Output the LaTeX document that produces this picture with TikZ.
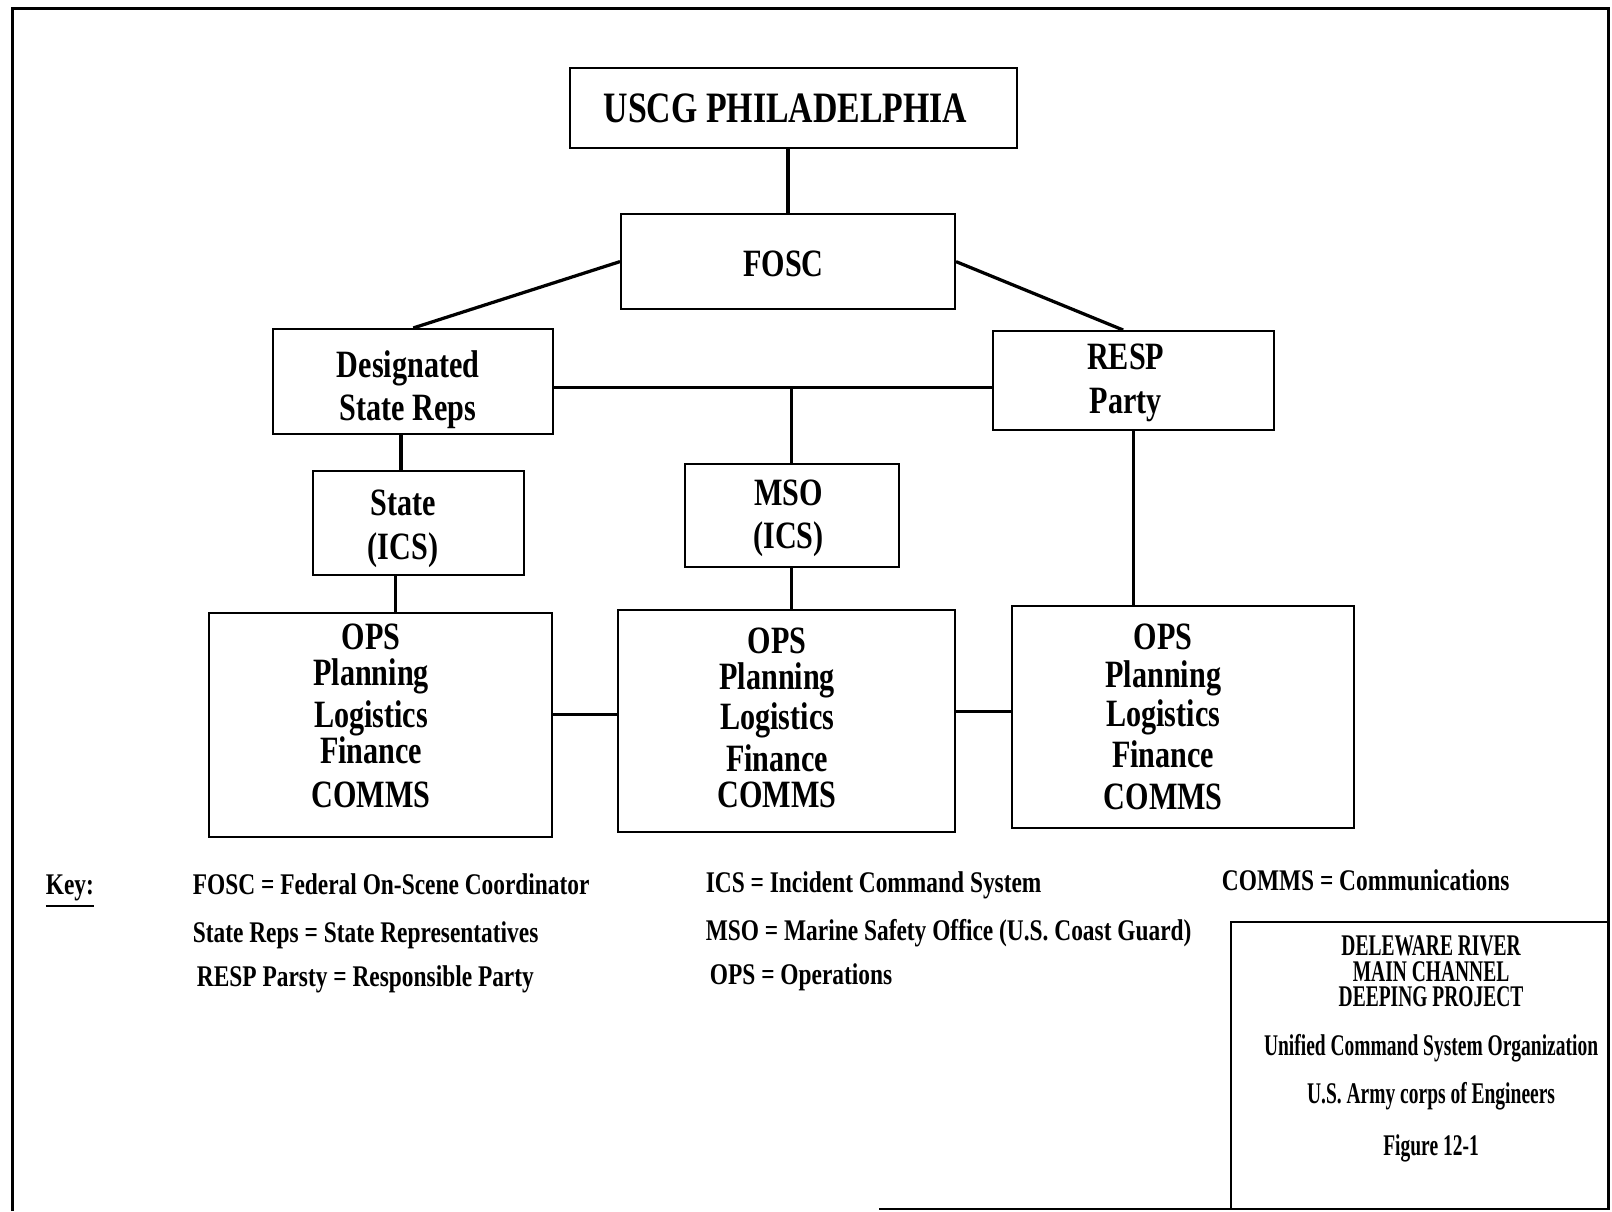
\documentclass[tikz,border=0pt]{standalone}
\usepackage{fontspec}
\setmainfont{Liberation Serif}[FakeStretch=0.78]
\newfontfamily\narrowfont{Liberation Serif}[FakeStretch=0.65]

\begin{document}
\begin{tikzpicture}[
                x=0.1mm,y=-0.1mm,
                line width=0.9pt,
                unit/.style={draw,line width=0.55pt,inner sep=0pt},
                inside/.style={align=center,inner sep=0pt,font=\fontsize{10.7}{12}\selectfont\bfseries},
                keytext/.style={anchor=mid west,inner sep=0pt,font=\fontsize{8.3}{10}\selectfont\bfseries}] %

\useasboundingbox (0,0) rectangle (1568,1178);

% frame
\draw[line width=0.8pt] (12,1178) -- (12,8) -- (1565,8) -- (1565,1176) -- (855,1176);


                    % 1
                    \node[unit,minimum width=43.5mm,minimum height=7.8mm,label={[inside,font=\fontsize{12}{14}\selectfont\bfseries,xshift=-0.75mm]center:{USCG PHILADELPHIA}}] (USCG) at (771.5,105) {};
                    \node[unit,minimum width=32.5mm,minimum height=9.3mm,label={[inside,xshift=-0.45mm,yshift=-0.25mm]center:{FOSC}}] (FOSC) at (766.5,254.5) {};
                    \path (FOSC.north) edge (FOSC.north |- USCG.south);


                    % 2
                    \node[unit,minimum width=27.2mm,minimum height=10.2mm,label={[inside,xshift=-0.5mm,yshift=-0.8mm]center:{Designated\\State Reps}}] (DSR) at (402,371) {};
                    \node[unit,minimum width=27.3mm,minimum height=9.6mm,label={[inside,xshift=-0.75mm,yshift=-0.25mm]center:{RESP\\Party}}] (RESP) at (1102.5,370) {};
                    \path (FOSC.west) edge (DSR.north);
                    \path (FOSC.east) edge ([xshift=-1mm]RESP.north);
                    \path ([yshift=-0.6mm]DSR.east) edge ([yshift=-0.6mm]DSR.east -| RESP.west);


                    % 3
                    \node[unit,minimum width=20.6mm,minimum height=10.1mm,label={[inside,xshift=-1.5mm,yshift=-0.6mm]center:{State\\(ICS)}}] (SICS) at (407,508.5) {};
                    \node[unit,minimum width=20.8mm,minimum height=10.1mm,label={[inside,xshift=-0.3mm,yshift=-0.25mm]center:{MSO\\(ICS)}}] (MSO) at (770,501.5) {};
                    \path ([xshift=-1.7mm]SICS.north) edge ([xshift=-1.7mm]SICS.north |- DSR.south);
                    \path (MSO.north) edge ([yshift=-0.6mm]MSO.north |- DSR.east);


                    % 4
                    \node[unit,minimum width=33.4mm,minimum height=21.8mm,label={[inside,xshift=-0.9mm,yshift=0.85mm]center:{OPS\\[-0.7mm]Planning\\[-0.2mm]Logistics\\[-0.7mm]Finance\\[0.1mm]COMMS}}] (OPSS) at (370,705) {};
                    \node[unit,minimum width=32.8mm,minimum height=21.6mm,label={[inside,xshift=-0.9mm,yshift=0.25mm]center:{OPS\\[-0.7mm]Planning\\[-0.4mm]Logistics\\[-0.1mm]Finance\\[-0.7mm]COMMS}}] (OPSM) at (765,701) {};
                    \node[unit,minimum width=33.3mm,minimum height=21.6mm,label={[inside,xshift=-1.9mm]center:{OPS\\[-0.5mm]Planning\\[-0.4mm]Logistics\\[-0.2mm]Finance\\[-0.2mm]COMMS}}] (OPSR) at (1150.5,697) {};
                    \path ([xshift=-2.2mm]SICS.south) edge ([xshift=-2.2mm]SICS.south |- OPSS.north);
                    \path (MSO.south) edge (MSO.south |- OPSM.north);
                    \path (RESP.south) edge (RESP.south |- OPSR.north);
                    \path ([yshift=0.6mm]OPSM.west) edge ([yshift=0.6mm]OPSM.west -| OPSS.east);
                    \path ([yshift=0.5mm]OPSR.west) edge ([yshift=0.5mm]OPSR.west -| OPSM.east);


%%%%%%%%%%%%%%%%%%%%%%%%%%%%%%%%%%%%%%%%%%%%%%%%%%%%%%%%%%%%%%%%%%%%%%%%%%%%%%%%%%%%

                    % key
                    \node[keytext] (KEY) at (43,862) {\underline{Key:}};
                    \node[keytext] (KFOSC) at (186,862) {FOSC = Federal On-Scene Coordinator};
                    \node[keytext] (KREPS) at (186,909) {State Reps = State Representatives};
                    \node[keytext] (KRESP) at (190,952) {RESP Parsty = Responsible Party};
                    \node[keytext] (KICS) at (685,860) {ICS = Incident Command System};
                    \node[keytext] (KMSO) at (685,907) {MSO = Marine Safety Office (U.S. Coast Guard)};
                    \node[keytext] (KOPS) at (689,950) {OPS = Operations};
                    \node[keytext] (KCOMMS) at (1187,858) {COMMS = Communications};

                    % title block
                    \draw[line width=0.6pt] (1565,897) -- (1197,897) -- (1197,1176);
                    \node[anchor=north,align=center,inner sep=0pt,font=\narrowfont\bfseries\fontsize{8.3}{6.95}\selectfont] (TITLE) at (1392,909) {DELEWARE RIVER\\MAIN CHANNEL\\DEEPING PROJECT\\[2.35mm]Unified Command System Organization\\[1.65mm]U.S. Army corps of Engineers\\[2.05mm]Figure 12-1};


\end{tikzpicture}
\end{document}
